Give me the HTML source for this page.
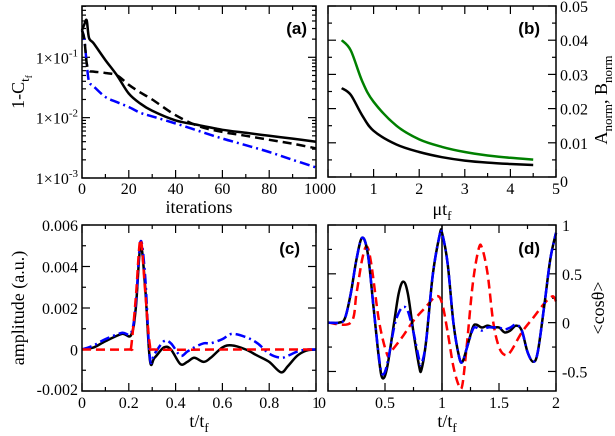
<!DOCTYPE html>
<html><head><meta charset="utf-8"><style>
body{margin:0;background:#fff;}
svg{display:block;font-family:"Liberation Serif","DejaVu Serif",serif;}
svg text{font-family:"Liberation Serif","DejaVu Serif",serif;}
svg text.bold{font-family:"Liberation Sans","DejaVu Sans",sans-serif;font-weight:bold;}
</style></head><body>
<svg id="fig" width="615" height="436" viewBox="0 0 615 436" xmlns="http://www.w3.org/2000/svg"></svg>
<script>
// Panel (a) data
const aIter = [0,1,2,3,5,10,15,20,25,30,40,50,60,70,80,90,100];
const aSolid = [0.28,0.35,0.41,0.21,0.17,0.09,0.05,0.025,0.017,0.013,0.009,0.0075,0.0063,0.0056,0.005,0.0045,0.004];
const aDashed = [0.28,0.2,0.08,0.06,0.058,0.055,0.05,0.035,0.026,0.02,0.011,0.0072,0.0058,0.005,0.0043,0.0037,0.0031];
const aDashDot = [0.28,0.2,0.08,0.04,0.033,0.022,0.018,0.015,0.012,0.0105,0.008,0.006,0.0045,0.0035,0.0027,0.002,0.0015];
// Panel (b) data
const bMu = [0.3,0.5,0.75,1,1.5,2,2.5,3,3.5,4,4.5];
const bGreen = [0.04,0.037,0.028,0.022,0.015,0.011,0.0088,0.0073,0.0063,0.0056,0.0051];
const bBlack = [0.026,0.024,0.018,0.0135,0.0095,0.0073,0.0058,0.0048,0.0042,0.0038,0.0035];
// Panel (c) data
const cT = [0,0.05,0.1,0.17,0.21,0.23,0.25,0.27,0.29,0.31,0.35,0.38,0.42,0.45,0.48,0.52,0.55,0.6,0.64,0.7,0.75,0.8,0.85,0.88,0.92,0.96,1];
const cBlack = [0,0.0001,0.0004,0.00075,0.0007,0.002,0.005,0.003,-0.0005,-0.0004,0.0001,0,-0.0007,-0.0006,-0.0004,-0.0006,-0.0004,0.0001,0.0002,0,-0.0003,-0.0006,-0.0011,-0.0008,-0.0003,-0.00005,0];
const cBlue = [0,0.0002,0.0005,0.0008,0.0008,0.0022,0.0052,0.0035,-0.0004,-0.0002,0.0004,0.0003,-0.0003,-0.0001,0.0001,0.0003,0.0003,0.0005,0.00075,0.0006,0.0003,-0.0002,-0.0004,-0.0003,-0.0001,0,0];
const cRedT = [0,0.2,0.21,0.23,0.25,0.27,0.29,0.31,0.6,1];
const cRed = [0,0,0.0001,0.0025,0.0053,0.0028,0.0002,0,0,0];
// Panel (d) data
const dT = [0,0.1,0.15,0.2,0.25,0.3,0.35,0.4,0.45,0.48,0.52,0.58,0.62,0.66,0.7,0.75,0.8,0.82,0.86,0.92,0.98,1,1.05,1.1,1.15,1.18,1.22,1.27,1.3,1.35,1.4,1.45,1.5,1.55,1.6,1.65,1.7,1.75,1.8,1.84,1.9,1.95,2];
const dBlack = [0,0,0.05,0.3,0.65,0.87,0.7,0.15,-0.4,-0.57,-0.45,0,0.3,0.42,0.3,-0.1,-0.45,-0.48,-0.2,0.5,0.9,0.92,0.6,0,-0.35,-0.4,-0.25,-0.05,-0.02,-0.05,-0.03,-0.05,-0.05,-0.1,-0.08,-0.03,-0.08,-0.3,-0.4,-0.3,0.2,0.65,0.92];
const dBlue = [0,0,0.05,0.3,0.65,0.87,0.7,0.15,-0.38,-0.53,-0.42,-0.05,0.1,0.16,0.12,-0.1,-0.38,-0.42,-0.2,0.5,0.9,0.92,0.6,0,-0.35,-0.4,-0.25,-0.07,-0.05,-0.08,-0.05,-0.05,-0.05,-0.07,-0.05,-0.02,-0.08,-0.3,-0.4,-0.3,0.2,0.65,0.92];
const dRedT = [0,0.2,0.25,0.3,0.34,0.38,0.45,0.52,0.55,0.65,0.75,0.85,0.95,1.0,1.05,1.1,1.15,1.18,1.22,1.27,1.32,1.35,1.4,1.45,1.5,1.55,1.6,1.7,1.8,1.9,1.97,2];
const dRed = [0,0,0.3,0.65,0.78,0.6,0,-0.33,-0.3,-0.15,0.02,0.15,0.27,0.2,-0.1,-0.45,-0.65,-0.63,-0.2,0.4,0.75,0.77,0.5,0,-0.25,-0.33,-0.3,-0.1,0.05,0.2,0.27,0.22];

const NS="http://www.w3.org/2000/svg";
const svg=document.getElementById('fig');
const SERIF='Liberation Serif, DejaVu Serif, serif';
function el(tag,attrs,parent){const e=document.createElementNS(NS,tag);for(const k in attrs)e.setAttribute(k,attrs[k]);(parent||svg).appendChild(e);return e;}
function txt(x,y,s,anchor,size,parent){const t=el('text',{x:x,y:y,'text-anchor':anchor||'middle','font-size':size||15,'font-family':SERIF},parent);t.textContent=s;return t;}
function smooth(pts){let d='M'+pts[0][0].toFixed(1)+','+pts[0][1].toFixed(1);
 for(let i=0;i<pts.length-1;i++){const p0=pts[i-1]||pts[i],p1=pts[i],p2=pts[i+1],p3=pts[i+2]||p2;
  const c1=[p1[0]+(p2[0]-p0[0])/6,p1[1]+(p2[1]-p0[1])/6],c2=[p2[0]-(p3[0]-p1[0])/6,p2[1]-(p3[1]-p1[1])/6];
  d+='C'+c1[0].toFixed(1)+','+c1[1].toFixed(1)+' '+c2[0].toFixed(1)+','+c2[1].toFixed(1)+' '+p2[0].toFixed(1)+','+p2[1].toFixed(1);}
 return d;}
function line(g,xs,ys,sx,sy,stroke,dash,name){const p=el('path',{d:smooth(xs.map((x,i)=>[sx(x),sy(ys[i])])),fill:'none',stroke:stroke,'stroke-width':2.5,'stroke-dasharray':dash||'none'},g);
 
 }
function frame(g,L,T,R,B){el('rect',{x:L,y:T,width:R-L,height:B-T,fill:'none',stroke:'#000','stroke-width':1.5},g);}
function tick(g,x1,y1,x2,y2){el('line',{x1:x1,y1:y1,x2:x2,y2:y2,stroke:'#000','stroke-width':1.2},g);}
function mkG(name){const g=el('g',{});return g;}
function lbl(g,x,y,s){const t=el('text',{x:x,y:y,'text-anchor':'end','font-size':17,'font-weight':'bold','font-family':'Liberation Sans, DejaVu Sans, sans-serif',class:'bold'},g);t.textContent=s;}

// ---- Panel a ----
{const g=mkG('panel-a');const L=82,R=316,T=6,B=178;const lmin=-3,lmax=-0.15;
 const sx=x=>L+(x/100)*(R-L), sy=v=>B-(Math.log10(v)-lmin)/(lmax-lmin)*(B-T);
 for(let x=0;x<=100;x+=10){const big=x%20==0;tick(g,sx(x),B,sx(x),B-(big?8:4));tick(g,sx(x),T,sx(x),T+(big?8:4));if(big)txt(sx(x),194,String(x),'middle',16,g);}
 for(let e=-3;e<0;e++){for(let m=1;m<10;m++){const v=m*Math.pow(10,e);if(Math.log10(v)>lmax)break;const y=sy(v);const len=m==1?8:4;tick(g,L,y,L+len,y);tick(g,R,y,R-len,y);}
  const t=txt(L-4,sy(Math.pow(10,e))+6,'1×10','end',16,g);const s=el('tspan',{dy:-7,'font-size':11},t);s.textContent=String(e);}
 line(g,aIter,aDashDot,sx,sy,'#0000ff','10,4,2,4','series-a-dashdot');
 line(g,aIter,aDashed,sx,sy,'#000','9,5','series-a-dashed');
 line(g,aIter,aSolid,sx,sy,'#000',null,'series-a-solid');
 frame(g,L,T,R,B);
 lbl(g,307,34,'(a)');
 txt(199,213,'iterations','middle',18,g);
 const yt=el('text',{transform:'translate(24,92) rotate(-90)','text-anchor':'middle','font-size':18,'font-family':SERIF},g);yt.textContent='1-C';const s1=el('tspan',{dy:5,'font-size':13},yt);s1.textContent='t';const s2=el('tspan',{dy:3,'font-size':9},yt);s2.textContent='f';
}
// ---- Panel b ----
{const g=mkG('panel-b');const L=328,R=556,T=6,B=177;
 const sx=x=>L+(x/5)*(R-L), sy=v=>B-(v/0.05)*(B-T);
 for(let i=0;i<=10;i++){const x=i*0.5,big=i%2==0;tick(g,sx(x),B,sx(x),B-(big?8:4));tick(g,sx(x),T,sx(x),T+(big?8:4));if(big&&i>0)txt(sx(x),194,String(x),'middle',16,g);}
 txt(L+4,194,'0','middle',16,g);
 for(let i=0;i<=10;i++){const v=i*0.005,big=i%2==0,y=sy(v);tick(g,L,y,L+(big?8:4),y);tick(g,R,y,R-(big?8:4),y);if(big)txt(R+4,y+(i==0?10:6),i==0?'0':v.toFixed(2),'start',16,g);}
 line(g,bMu,bGreen,sx,sy,'#008000',null,'series-b-green');
 line(g,bMu,bBlack,sx,sy,'#000',null,'series-b-black');
 frame(g,L,T,R,B);
 lbl(g,540,34,'(b)');
 const xt=txt(442,215,'μt','middle',18,g);const s=el('tspan',{dy:5,'font-size':13},xt);s.textContent='f';
 const yt=el('text',{transform:'translate(607,100) rotate(-90)','text-anchor':'middle','font-size':18,'font-family':SERIF},g);
 yt.textContent='A';const a1=el('tspan',{dy:5,'font-size':13},yt);a1.textContent='norm';const a2=el('tspan',{dy:-5},yt);a2.textContent=', B';const a3=el('tspan',{dy:5,'font-size':13},yt);a3.textContent='norm';
}
// ---- Panel c ----
{const g=mkG('panel-c');const L=82,R=316,T=225,B=391;
 const sx=x=>L+x*(R-L), sy=v=>B-((v+0.002)/0.008)*(B-T);
 for(let i=0;i<=10;i++){const x=i/10,big=i%2==0;tick(g,sx(x),B,sx(x),B-(big?8:4));tick(g,sx(x),T,sx(x),T+(big?8:4));if(big)txt(sx(x),408,i==0?'0':i==10?'1':x.toFixed(1),'middle',16,g);}
 for(let i=0;i<=8;i++){const v=-0.002+i*0.001,big=i%2==0,y=sy(v);tick(g,L,y,L+(big?8:4),y);tick(g,R,y,R-(big?8:4),y);if(big)txt(L-4,y+(i==0?4:6),Math.abs(v)<1e-9?'0':v.toFixed(3),'end',16,g);}
 line(g,cT,cBlack,sx,sy,'#000',null,'series-c-black');
 line(g,cT,cBlue,sx,sy,'#0000ff','10,4,2,4','series-c-dashdot');
 line(g,cRedT,cRed,sx,sy,'#ff0000','9,5','series-c-red');
 frame(g,L,T,R,B);
 lbl(g,300,254,'(c)');
 const xt=txt(199,427,'t/t','middle',18,g);const s=el('tspan',{dy:5,'font-size':13},xt);s.textContent='f';
 const yt=el('text',{transform:'translate(24,308) rotate(-90)','text-anchor':'middle','font-size':18,'font-family':SERIF},g);yt.textContent='amplitude (a.u.)';
}
// ---- Panel d ----
{const g=mkG('panel-d');const L=328,R=556,T=225,B=391;const ymin=-0.7,ymax=1;
 const sx=x=>L+(x/2)*(R-L), sy=v=>B-((v-ymin)/(ymax-ymin))*(B-T);
 for(let i=0;i<=8;i++){const x=i*0.25,big=i%2==0;tick(g,sx(x),B,sx(x),B-(big?8:4));tick(g,sx(x),T,sx(x),T+(big?8:4));if(big&&i>0)txt(sx(x),408,String(x),'middle',16,g);}
 txt(L-6,408,'0','middle',16,g);
 for(let v=-0.5;v<=1.001;v+=0.25){const big=Math.abs(v*2-Math.round(v*2))<1e-6,y=sy(v);tick(g,L,y,L+(big?8:4),y);tick(g,R,y,R-(big?8:4),y);if(big)txt(R+6,y+6,v==0?'0':String(v),'start',16,g);}
 el('line',{x1:sx(1),y1:T,x2:sx(1),y2:B,stroke:'#000','stroke-width':1.5},g);
 line(g,dRedT,dRed,sx,sy,'#ff0000','9,5','series-d-red');
 line(g,dT,dBlack,sx,sy,'#000',null,'series-d-black');
 line(g,dT,dBlue,sx,sy,'#0000ff','10,4,2,4','series-d-dashdot');
 frame(g,L,T,R,B);
 lbl(g,540,254,'(d)');
 const xt=txt(447,427,'t/t','middle',18,g);const s=el('tspan',{dy:5,'font-size':13},xt);s.textContent='f';
 const yt=el('text',{transform:'translate(604,308) rotate(-90)','text-anchor':'middle','font-size':18,'font-family':SERIF},g);yt.textContent='<cosθ>';
}
</script>
</body></html>
